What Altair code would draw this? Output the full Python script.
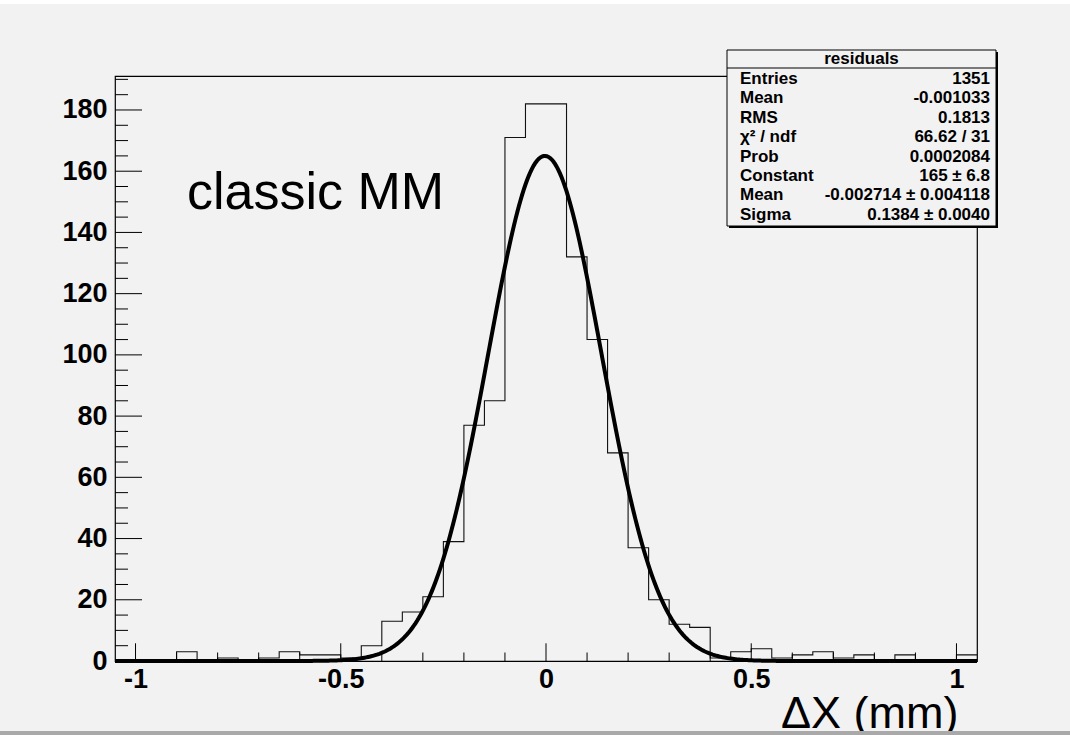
import altair as alt
import pandas as pd

# ---------------- data ----------------
x_min, x_max, bin_width = -1.05, 1.05, 0.05
counts = [0, 0, 0, 3, 0, 1, 0, 1, 3, 2, 2, 1, 5, 13, 16, 21, 39, 77, 85, 171,
          182, 182, 132, 105, 68, 37, 20, 12, 11, 1, 3, 4, 1, 2, 3, 1, 2, 0, 2, 0, 0, 2]
y_top = 191.1

fit_constant = 165.0
fit_mean = -0.002714
fit_sigma = 0.1384

x_major_ticks = [-1, -0.5, 0, 0.5, 1]
x_minor_ticks = [-0.9, -0.8, -0.7, -0.6, -0.4, -0.3, -0.2, -0.1,
                 0.1, 0.2, 0.3, 0.4, 0.6, 0.7, 0.8, 0.9]
y_major_ticks = [0, 20, 40, 60, 80, 100, 120, 140, 160, 180]
y_minor_ticks = [5, 10, 15, 25, 30, 35, 45, 50, 55, 65, 70, 75, 85, 90, 95,
                 105, 110, 115, 125, 130, 135, 145, 150, 155, 165, 170, 175, 185, 190]

stat_title = "residuals"
stat_labels = ["Entries", "Mean", "RMS", "χ² / ndf", "Prob", "Constant", "Mean", "Sigma"]
stat_values = ["1351", "-0.001033", "0.1813", "66.62 / 31", "0.0002084",
               "165 ± 6.8", "-0.002714 ± 0.004118", "0.1384 ± 0.0040"]
annotation = "classic MM"
x_title = "ΔX (mm)"

# ---------------- layout ----------------
W, H = 862, 585
PAD_L, PAD_T = 115, 76
FONT = "Liberation Sans"

edges = [round(x_min + i * bin_width, 4) for i in range(len(counts))] + [x_max]
hist_df = pd.DataFrame({"x": edges, "y": counts + [counts[-1]]})

xs = alt.Scale(domain=[x_min, x_max], nice=False, zero=False)
ysc = alt.Scale(domain=[0, y_top], nice=False, zero=False)

x_axis = alt.Axis(values=x_major_ticks, labelExpr="'' + datum.value", ticks=False, tickSize=0,
                  domain=False, grid=False, labelFont=FONT, labelFontSize=27,
                  labelFontWeight="bold", labelColor="black", labelPadding=5,
                  labelFlush=False, labelOverlap=False, labelBound=False,
                  title=x_title, titleFont=FONT, titleFontSize=45, titleFontWeight="normal",
                  titleColor="black", titleX=843, titleY=66, titleAlign="right",
                  titleBaseline="alphabetic")
y_axis = alt.Axis(values=y_major_ticks, labelExpr="'' + datum.value", ticks=False, tickSize=0,
                  domain=False, grid=False, labelFont=FONT, labelFontSize=27,
                  labelFontWeight="bold", labelColor="black", labelPadding=8,
                  labelFlush=False, labelOverlap=False, labelBound=False, title=None)

hist = alt.Chart(hist_df).mark_line(interpolate="step-after", color="#111", strokeWidth=1.1).encode(
    x=alt.X("x:Q", scale=xs, axis=x_axis),
    y=alt.Y("y:Q", scale=ysc, axis=y_axis),
)

fit = alt.Chart(alt.sequence(x_min, x_max + 0.0001, 0.004, as_="x")).transform_calculate(
    y=f"{fit_constant} * exp(-0.5 * pow((datum.x - ({fit_mean})) / {fit_sigma}, 2))"
).mark_line(color="black", strokeWidth=4).encode(
    x=alt.X("x:Q", scale=xs), y=alt.Y("y:Q", scale=ysc)
)

def xticks(vals, length):
    return alt.Chart(pd.DataFrame({"t": vals})).mark_rule(color="black", strokeWidth=1).encode(
        x=alt.X("t:Q", scale=xs), y=alt.value(H), y2=alt.value(H - length))

def yticks(vals, length):
    return alt.Chart(pd.DataFrame({"t": vals})).mark_rule(color="black", strokeWidth=1).encode(
        y=alt.Y("t:Q", scale=ysc), x=alt.value(0), x2=alt.value(length))

one = pd.DataFrame({"a": [0]})

# decorative page edges
top_strip = alt.Chart(one).mark_rect(color="white").encode(
    x=alt.value(-PAD_L), x2=alt.value(1070 - PAD_L), y=alt.value(-PAD_T), y2=alt.value(-PAD_T + 4))
bottom_bar = alt.Chart(one).mark_rect(color="#a9a9a9").encode(
    x=alt.value(-PAD_L), x2=alt.value(1070 - PAD_L), y=alt.value(731 - PAD_T), y2=alt.value(735 - PAD_T))

label_text = alt.Chart(pd.DataFrame({"t": [annotation]})).mark_text(
    font=FONT, fontSize=52, align="left", baseline="alphabetic", color="black").encode(
    text="t:N", x=alt.value(187 - PAD_L), y=alt.value(209 - PAD_T))

# stats box
bx0, bx1, by0, by1 = 727 - PAD_L, 996 - PAD_L, 50 - PAD_T, 226 - PAD_T
box_shadow = alt.Chart(one).mark_rect(color="black").encode(
    x=alt.value(bx0 + 2), x2=alt.value(bx1 + 2), y=alt.value(by0 + 2), y2=alt.value(by1 + 2))
box = alt.Chart(one).mark_rect(fill="#f2f2f2", stroke="black", strokeWidth=1).encode(
    x=alt.value(bx0), x2=alt.value(bx1), y=alt.value(by0), y2=alt.value(by1))
box_line = alt.Chart(one).mark_rule(color="black", strokeWidth=1).encode(
    x=alt.value(bx0), x2=alt.value(bx1), y=alt.value(68 - PAD_T))
box_title = alt.Chart(pd.DataFrame({"t": [stat_title]})).mark_text(
    font=FONT, fontSize=17, fontWeight="bold", align="center", baseline="middle", color="black").encode(
    text="t:N", x=alt.value((bx0 + bx1) / 2), y=alt.value(59 - PAD_T))
stat_df = pd.DataFrame({"l": ["\n".join(stat_labels)], "v": ["\n".join(stat_values)]})
box_labels = alt.Chart(stat_df).mark_text(
    font=FONT, fontSize=17, fontWeight="bold", align="left", baseline="top", color="black",
    lineBreak="\n", lineHeight=19.4).encode(
    text="l:N", x=alt.value(740 - PAD_L), y=alt.value(71 - PAD_T))
box_values = alt.Chart(stat_df).mark_text(
    font=FONT, fontSize=17, fontWeight="bold", align="right", baseline="top", color="black",
    lineBreak="\n", lineHeight=19.4).encode(
    text="v:N", x=alt.value(990 - PAD_L), y=alt.value(71 - PAD_T))

chart = alt.layer(
    top_strip, bottom_bar,
    hist, fit,
    xticks(x_major_ticks, 17.7), xticks(x_minor_ticks, 8.5),
    yticks(y_major_ticks, 27), yticks(y_minor_ticks, 13),
    label_text,
    box_shadow, box, box_line, box_title, box_labels, box_values,
).properties(
    width=W, height=H,
    padding={"left": PAD_L, "top": PAD_T, "right": 1070 - PAD_L - W, "bottom": 735 - PAD_T - H},
    autosize="none",
    background="#f2f2f2",
).configure_view(stroke="black", strokeWidth=1.2, fill=None)

chart.save("out.html", embed_options={"renderer": "svg", "actions": False})
